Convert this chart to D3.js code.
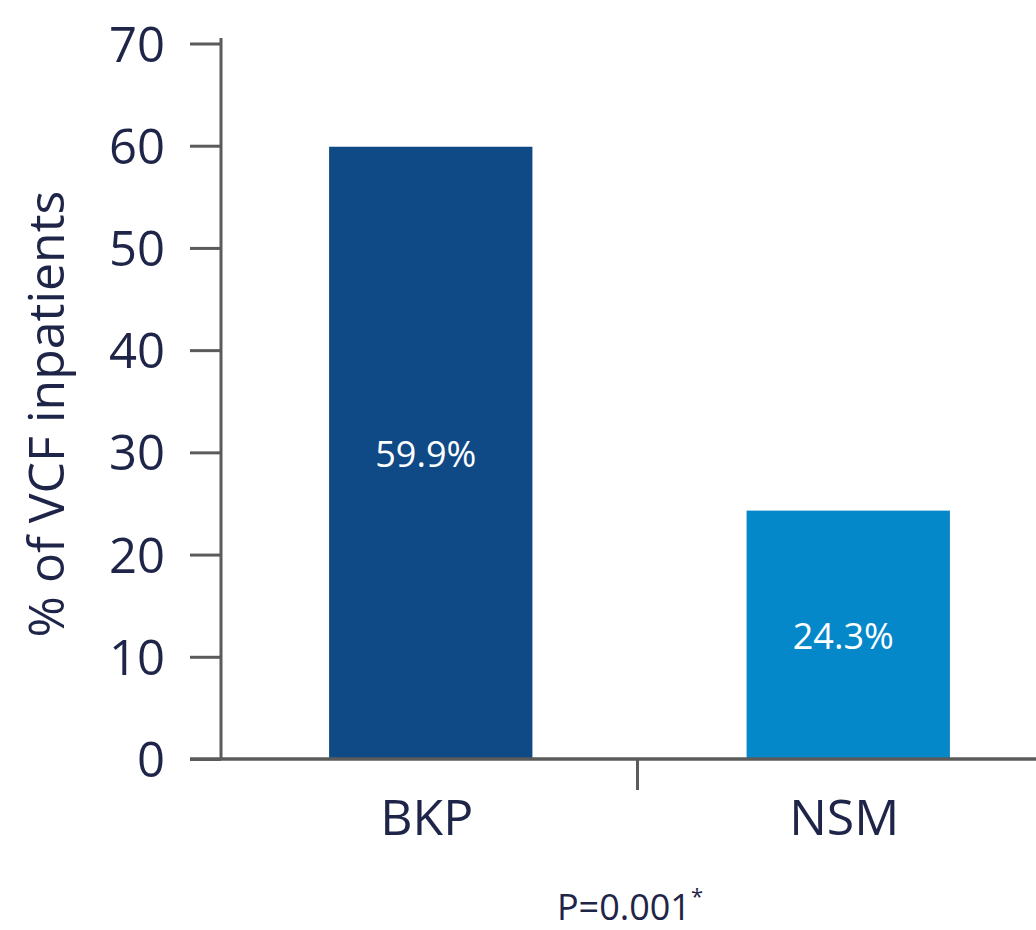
<!DOCTYPE html>
<html>
<head>
<meta charset="utf-8">
<script src="https://cdn.jsdelivr.net/npm/d3@7"></script>
<style>
  html, body { margin: 0; padding: 0; background: #ffffff; }
  svg { display: block; }
  text { font-family: "Open Sans", "Noto Sans", sans-serif; }
</style>
</head>
<body>
<svg id="chart" width="1036" height="930"></svg>
<script>
// Share of VCF inpatients by treatment group
const categories = ["BKP", "NSM"];
const values = [59.9, 24.3];
const valueLabels = ["59.9%", "24.3%"];
const barColors = ["#0F4A86", "#0588C9"];
const yTicks = [0, 10, 20, 30, 40, 50, 60, 70];
const yTitle = "% of VCF inpatients";
const pValue = "P=0.001";

const textColor = "#1F2548";
const axisColor = "#5B5B5B";

const svg = d3.select("#chart");

const y = d3.scaleLinear().domain([0, 70]).range([759, 43.5]);
const x = d3.scaleBand()
  .domain(categories)
  .range([222, 1057])
  .paddingInner(0.513)
  .paddingOuter(0.2565);

// Bars
svg.append("g")
  .selectAll("rect")
  .data(categories)
  .join("rect")
  .attr("x", d => x(d))
  .attr("width", x.bandwidth())
  .attr("y", (d, i) => y(values[i]))
  .attr("height", (d, i) => y(0) - y(values[i]))
  .attr("fill", (d, i) => barColors[i]);

// Value labels inside bars
svg.append("g")
  .selectAll("text")
  .data(categories)
  .join("text")
  .attr("x", d => x(d) + x.bandwidth() / 2 - 5)
  .attr("y", (d, i) => (y(values[i]) + y(0)) / 2 + 14)
  .attr("text-anchor", "middle")
  .attr("font-size", 36)
  .attr("fill", "#ffffff")
  .text((d, i) => valueLabels[i]);

// Y axis
const yAxis = d3.axisLeft(y)
  .tickValues(yTicks)
  .tickSize(31)
  .tickPadding(25)
  .tickSizeOuter(0);
const gy = svg.append("g")
  .attr("transform", "translate(221,0)")
  .call(yAxis);
gy.select(".domain").remove();
gy.selectAll(".tick line").attr("stroke", axisColor).attr("stroke-width", 3);
gy.selectAll(".tick text")
  .attr("fill", textColor)
  .attr("font-size", 49)
  .attr("font-family", "\"Open Sans\", sans-serif")
  .attr("dy", "0.36em");
gy.append("line")
  .attr("x1", 0).attr("x2", 0)
  .attr("y1", 38).attr("y2", y(0))
  .attr("stroke", axisColor)
  .attr("stroke-width", 3);

// X axis baseline and separator tick between categories
const gx = svg.append("g");
gx.append("line")
  .attr("x1", 190).attr("x2", 1036)
  .attr("y1", y(0)).attr("y2", y(0))
  .attr("stroke", axisColor)
  .attr("stroke-width", 3.5);
const sep = x(categories[1]) - x.step() * x.paddingInner() / 2 - 2;
gx.append("line")
  .attr("x1", sep).attr("x2", sep)
  .attr("y1", y(0)).attr("y2", 790)
  .attr("stroke", axisColor)
  .attr("stroke-width", 3);

// Category labels
gx.selectAll("text.cat")
  .data(categories)
  .join("text")
  .attr("class", "cat")
  .attr("x", d => x(d) + x.bandwidth() / 2 - 4)
  .attr("y", 835)
  .attr("text-anchor", "middle")
  .attr("font-size", 50)
  .attr("fill", textColor)
  .text(d => d);

// Y axis title
svg.append("text")
  .attr("transform", "translate(64,414) rotate(-90)")
  .attr("text-anchor", "middle")
  .attr("font-size", 50)
  .attr("fill", textColor)
  .text(yTitle);

// P-value note
const pText = svg.append("text")
  .attr("x", 630)
  .attr("y", 920)
  .attr("text-anchor", "middle")
  .attr("font-size", 36)
  .attr("fill", textColor);
pText.append("tspan").text(pValue);
pText.append("tspan")
  .attr("font-size", 22)
  .attr("dy", -16)
  .text("*");
</script>
</body>
</html>
